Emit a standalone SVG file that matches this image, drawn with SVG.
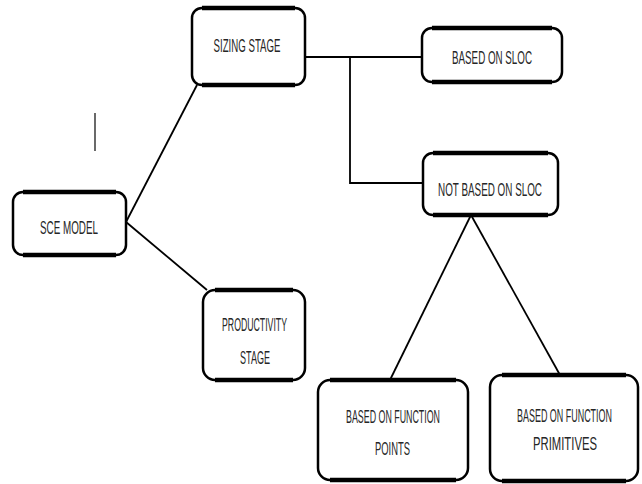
<svg xmlns="http://www.w3.org/2000/svg" width="642" height="484" viewBox="0 0 642 484">
<style>
.box{fill:#fff;stroke:#000;stroke-width:2.5}
.tb{fill:none;stroke:#000;stroke-width:4.5}
.lbl{font-family:"Liberation Sans",Arial,sans-serif;font-size:19px;fill:#262626;text-anchor:middle}
.con{fill:none;stroke:#000;stroke-width:1.8}
</style>
<rect width="642" height="484" fill="#fff"/>
<g id="connectors">
<line class="con" x1="126" y1="222" x2="197" y2="85"/>
<line class="con" x1="126" y1="222" x2="207" y2="290"/>
<line class="con" x1="305" y1="57" x2="422" y2="57"/>
<polyline class="con" points="350,57 350,183 423,183"/>
<line class="con" x1="471" y1="215" x2="390" y2="380"/>
<line class="con" x1="471" y1="215" x2="560" y2="375"/>
<line x1="95" y1="113" x2="95" y2="151" stroke="#444" stroke-width="1.6"/>
</g>
<g id="sizing">
<rect class="box" x="192" y="8" width="113" height="77" rx="10"/>
<path class="tb" d="M202 8 H295 M202 85 H295"/>
<text class="lbl" transform="translate(247 52) scale(0.5 1)" textLength="134" lengthAdjust="spacingAndGlyphs">SIZING STAGE</text>
</g>
<g id="sloc">
<rect class="box" x="422" y="28" width="140" height="54" rx="10"/>
<path class="tb" d="M432 28 H552 M432 82 H552"/>
<text class="lbl" transform="translate(492 64) scale(0.5 1)" textLength="160" lengthAdjust="spacingAndGlyphs">BASED ON SLOC</text>
</g>
<g id="notsloc">
<rect class="box" x="423" y="153" width="135" height="62" rx="10"/>
<path class="tb" d="M433 153 H548 M433 215 H548"/>
<text class="lbl" transform="translate(490 196) scale(0.5 1)" textLength="208" lengthAdjust="spacingAndGlyphs">NOT BASED ON SLOC</text>
</g>
<g id="sce">
<rect class="box" x="13" y="192" width="113" height="63" rx="10"/>
<path class="tb" d="M23 192 H116 M23 255 H116"/>
<text class="lbl" transform="translate(69 234) scale(0.5 1)" textLength="116" lengthAdjust="spacingAndGlyphs">SCE MODEL</text>
</g>
<g id="productivity">
<rect class="box" x="203" y="290" width="102" height="90" rx="12"/>
<path class="tb" d="M215 290 H293 M215 380 H293"/>
<text class="lbl" transform="translate(254.5 331) scale(0.5 1)" textLength="130" lengthAdjust="spacingAndGlyphs">PRODUCTIVITY</text>
<text class="lbl" transform="translate(255 364) scale(0.5 1)" textLength="60" lengthAdjust="spacingAndGlyphs">STAGE</text>
</g>
<g id="fpoints">
<rect class="box" x="318" y="380" width="150" height="100" rx="12"/>
<path class="tb" d="M330 380 H456 M330 480 H456"/>
<text class="lbl" transform="translate(393 423) scale(0.5 1)" textLength="188" lengthAdjust="spacingAndGlyphs">BASED ON FUNCTION</text>
<text class="lbl" transform="translate(392.5 455) scale(0.5 1)" textLength="70" lengthAdjust="spacingAndGlyphs">POINTS</text>
</g>
<g id="fprimitives">
<rect class="box" x="490" y="375" width="148" height="106" rx="12"/>
<path class="tb" d="M502 375 H626 M502 481 H626"/>
<text class="lbl" transform="translate(564.5 422) scale(0.5 1)" textLength="190" lengthAdjust="spacingAndGlyphs">BASED ON FUNCTION</text>
<text class="lbl" transform="translate(565 450) scale(0.5 1)" textLength="128" lengthAdjust="spacingAndGlyphs">PRIMITIVES</text>
</g>
</svg>
